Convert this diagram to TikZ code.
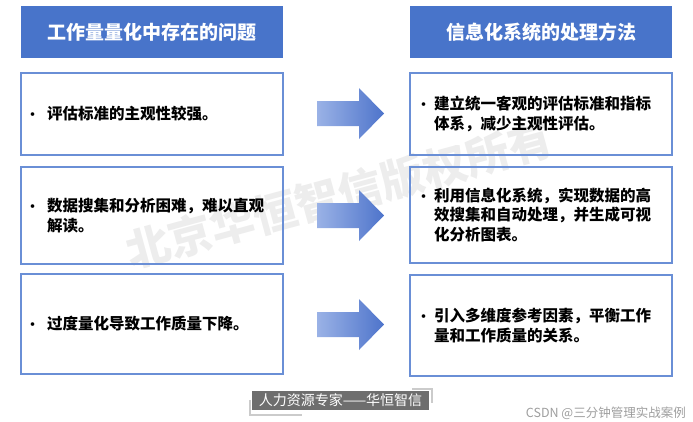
\documentclass[tikz,border=0pt]{standalone}
\usepackage{fontspec}
\setmainfont{Noto Sans CJK SC}
\usetikzlibrary{positioning}
\definecolor{hdrblue}{HTML}{4874CA}
\definecolor{boxblue}{HTML}{6A8FD6}
\definecolor{arrL}{HTML}{9AB2E6}
\definecolor{arrR}{HTML}{4E74CB}
\definecolor{wmgray}{HTML}{EDEDED}
\definecolor{tagGray}{HTML}{6E6E6E}
\definecolor{tagLine}{HTML}{CBCBCB}
\newcommand\bitem[3]{\hspace*{#1}\makebox[#2][l]{\fontsize{13pt}{13pt}\selectfont •}\parbox[t]{215pt}{#3}}
\begin{document}
\begin{tikzpicture}[x=1pt,y=-1pt,
  header/.style={fill=hdrblue,draw=none,minimum width=262pt,minimum height=52pt,inner sep=0pt,
    text=white,font=\fontsize{19pt}{22pt}\selectfont\bfseries},
  itembox/.style={draw=boxblue,line width=1.2pt,minimum width=262pt,inner xsep=0pt,inner ysep=0pt,
    text width=262pt,align=left,font=\fontsize{15.5pt}{19.5pt}\selectfont\bfseries},
  tag/.style={fill=tagGray,text=white,minimum width=177pt,minimum height=19pt,inner sep=0pt,
    font=\fontsize{14pt}{16pt}\selectfont},
  deco/.style={draw=tagLine,line width=1.3pt}
]
\useasboundingbox (0,0) rectangle (693,421);
% watermark
\node[rotate=15.2,text=wmgray,font=\fontsize{44pt}{44pt}\selectfont\bfseries,inner sep=0pt] (wm) at (339,195) {北京华恒智信版权所有};
% headers
\node[header] (hl) at (152,32) {工作量量化中存在的问题};
\node[header] (hr) at (541,32) {信息化系统的处理方法};
% left boxes
\node[itembox,minimum height=82pt] (l1) at (152,114) {\bitem{5pt}{21pt}{评估标准的主观性较强。}};
\node[itembox,minimum height=97pt] (l2) at (152,215.5) {\bitem{5pt}{21pt}{数据搜集和分析困难，难以直观\\解读。}};
\node[itembox,minimum height=100pt] (l3) at (152,324) {\bitem{5pt}{21pt}{过度量化导致工作质量下降。}};
% right boxes
\node[itembox,minimum height=82pt] (r1) at (541,114) {\bitem{7pt}{17pt}{建立统一客观的评估标准和指标\\体系，减少主观性评估。}};
\node[itembox,minimum height=96pt] (r2) at (541,215) {\bitem{7pt}{17pt}{利用信息化系统，实现数据的高\\效搜集和自动处理，并生成可视\\化分析图表。}};
\node[itembox,minimum height=101pt] (r3) at (541,325.5) {\bitem{7pt}{17pt}{引入多维度参考因素，平衡工作\\量和工作质量的关系。}};
% arrows
\foreach \c in {113.5,215.5,324.5}{
  \shade[left color=arrL,right color=arrR]
    (317,\c-12.5) -- (359,\c-12.5) -- (359,\c-25.5) -- (384,\c) -- (359,\c+25.5) -- (359,\c+12.5) -- (317,\c+12.5) -- cycle;
}
% footer tag
\coordinate (d1) at (412,389);
\coordinate (d2) at (432,389);
\coordinate (d3) at (432,403);
\coordinate (d4) at (250,400);
\coordinate (d5) at (250,415);
\coordinate (d6) at (302,415);
\draw[deco] (d1) -- (d2) -- (d3);
\draw[deco] (d4) -- (d5) -- (d6);
\node[tag] (tg) at (340.5,400.5) {人力资源专家——华恒智信};
\node[text=black!38,font=\fontsize{12.5pt}{14pt}\selectfont,inner sep=0pt,anchor=east] (csdn) at (686,413) {CSDN @三分钟管理实战案例};
\end{tikzpicture}
\end{document}
